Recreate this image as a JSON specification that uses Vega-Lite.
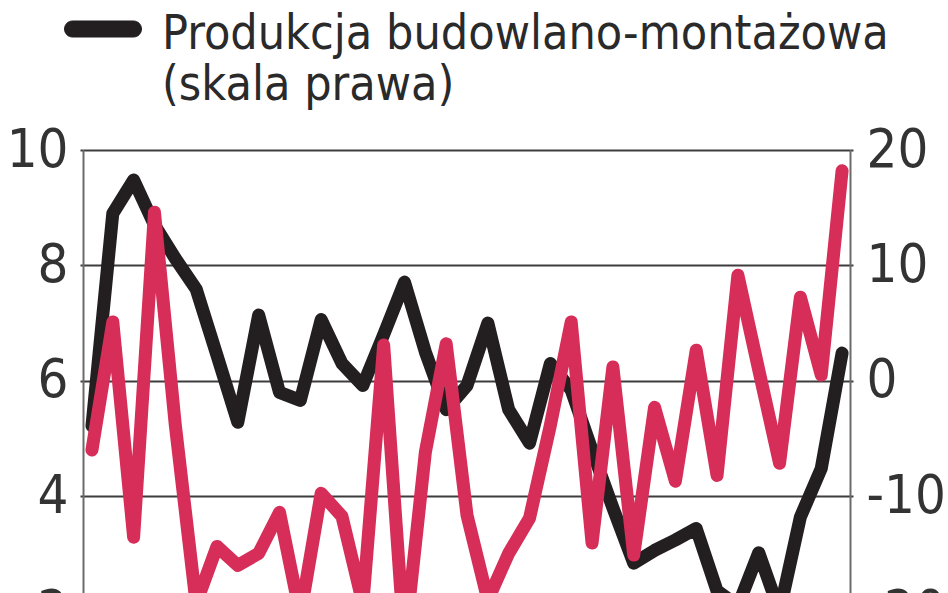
{
  "$schema": "https://vega.github.io/schema/vega-lite/v6.json",
  "width": 767,
  "height": 577,
  "autosize": {"type": "none"},
  "padding": {"left": 83, "top": 150, "right": 98, "bottom": -134},
  "background": "white",
  "title": {
    "text": ["Produkcja budowlano-montażowa", "(skala prawa)"],
    "anchor": "start",
    "frame": "group",
    "orient": "top",
    "dx": 79,
    "dy": 129,
    "offset": 9,
    "font": "DejaVu Sans Condensed",
    "fontSize": 48,
    "fontWeight": "normal",
    "color": "#2a2a2a",
    "lineHeight": 51
  },
  "data": {
    "values": [
      {"m": 0, "produkcja": -3.9, "druga": 4.8},
      {"m": 1, "produkcja": 14.5, "druga": 7.02},
      {"m": 2, "produkcja": 17.4, "druga": 3.29},
      {"m": 3, "produkcja": 13.5, "druga": 8.92},
      {"m": 4, "produkcja": 10.6, "druga": 5.23},
      {"m": 5, "produkcja": 7.95, "druga": 2.14},
      {"m": 6, "produkcja": 2.2, "druga": 3.13},
      {"m": 7, "produkcja": -3.6, "druga": 2.8},
      {"m": 8, "produkcja": 5.7, "druga": 3.01},
      {"m": 9, "produkcja": -1.0, "druga": 3.72},
      {"m": 10, "produkcja": -1.7, "druga": 1.94},
      {"m": 11, "produkcja": 5.3, "druga": 4.05},
      {"m": 12, "produkcja": 1.5, "druga": 3.65},
      {"m": 13, "produkcja": -0.4, "druga": 2.14},
      {"m": 14, "produkcja": 4.0, "druga": 6.62},
      {"m": 15, "produkcja": 8.55, "druga": 1.42},
      {"m": 16, "produkcja": 2.5, "druga": 4.76},
      {"m": 17, "produkcja": -2.5, "druga": 6.64},
      {"m": 18, "produkcja": -0.4, "druga": 3.67},
      {"m": 19, "produkcja": 5.0, "druga": 2.2},
      {"m": 20, "produkcja": -2.5, "druga": 3.01},
      {"m": 21, "produkcja": -5.4, "druga": 3.62},
      {"m": 22, "produkcja": 1.5, "druga": 5.23},
      {"m": 23, "produkcja": -0.8, "druga": 7.02},
      {"m": 24, "produkcja": -6.0, "druga": 3.19},
      {"m": 25, "produkcja": -11.0, "druga": 6.24},
      {"m": 26, "produkcja": -15.8, "druga": 2.98},
      {"m": 27, "produkcja": -14.7, "druga": 5.54},
      {"m": 28, "produkcja": -13.8, "druga": 4.26},
      {"m": 29, "produkcja": -12.8, "druga": 6.53},
      {"m": 30, "produkcja": -18.2, "druga": 4.36},
      {"m": 31, "produkcja": -19.5, "druga": 7.83},
      {"m": 32, "produkcja": -14.9, "druga": 6.19},
      {"m": 33, "produkcja": -20.0, "druga": 4.57},
      {"m": 34, "produkcja": -11.8, "druga": 7.45},
      {"m": 35, "produkcja": -7.6, "druga": 6.1},
      {"m": 36, "produkcja": 2.4, "druga": 9.64}
    ]
  },
  "encoding": {
    "x": {
      "field": "m",
      "type": "quantitative",
      "scale": {"domain": [-0.43, 36.38], "nice": false, "zero": false},
      "axis": null
    }
  },
  "layer": [
    {
      "mark": {"type": "line", "strokeWidth": 13, "strokeJoin": "round", "strokeCap": "round"},
      "encoding": {
        "y": {
          "field": "produkcja",
          "type": "quantitative",
          "scale": {"domain": [-30, 20], "nice": false, "zero": false},
          "axis": {
            "orient": "right",
            "title": null,
            "values": [-30, -20, -10, 0, 10, 20],
            "grid": false,
            "domainColor": "#6b6b6b",
            "domainWidth": 2,
            "tickSize": 3,
            "tickWidth": 2,
            "tickColor": "#3d3d3d",
            "labelPadding": 13,
            "labelExpr": "datum.value < 0 ? '-' + abs(datum.value) : '' + datum.value"
          }
        },
        "color": {
          "datum": "Produkcja budowlano-montażowa",
          "scale": {
            "domain": ["Produkcja budowlano-montażowa", "Druga seria (skala lewa)"],
            "range": ["#231f20", "#d62e58"]
          },
          "legend": {
            "orient": "none",
            "legendX": -19,
            "legendY": -160,
            "values": ["Produkcja budowlano-montażowa"],
            "symbolType": "M-0.792,-0.208L0.792,-0.208A0.208,0.208,0,0,1,0.792,0.208L-0.792,0.208A0.208,0.208,0,0,1,-0.792,-0.208Z",
            "symbolSize": 5929,
            "symbolStrokeWidth": 1,
            "symbolFillColor": "#231f20",
            "labelExpr": "''",
            "title": null
          }
        }
      }
    },
    {
      "mark": {"type": "line", "strokeWidth": 13, "strokeJoin": "round", "strokeCap": "round"},
      "encoding": {
        "y": {
          "field": "druga",
          "type": "quantitative",
          "scale": {"domain": [0, 10], "nice": false, "zero": false},
          "axis": {
            "orient": "left",
            "title": null,
            "values": [0, 2, 4, 6, 8, 10],
            "grid": true,
            "gridColor": "#3d3d3d",
            "gridWidth": 2,
            "domainColor": "#6b6b6b",
            "domainWidth": 2,
            "tickSize": 3,
            "tickWidth": 2,
            "tickColor": "#3d3d3d",
            "labelPadding": 12
          }
        },
        "color": {"datum": "Druga seria (skala lewa)"}
      }
    }
  ],
  "resolve": {"scale": {"y": "independent"}, "axis": {"y": "independent"}},
  "config": {
    "view": {"stroke": null},
    "axis": {
      "labelFont": "DejaVu Sans Condensed",
      "labelFontSize": 54,
      "labelColor": "#333333",
      "labelFlush": false,
      "labelOverlap": false,
      "labelBound": false
    }
  }
}
